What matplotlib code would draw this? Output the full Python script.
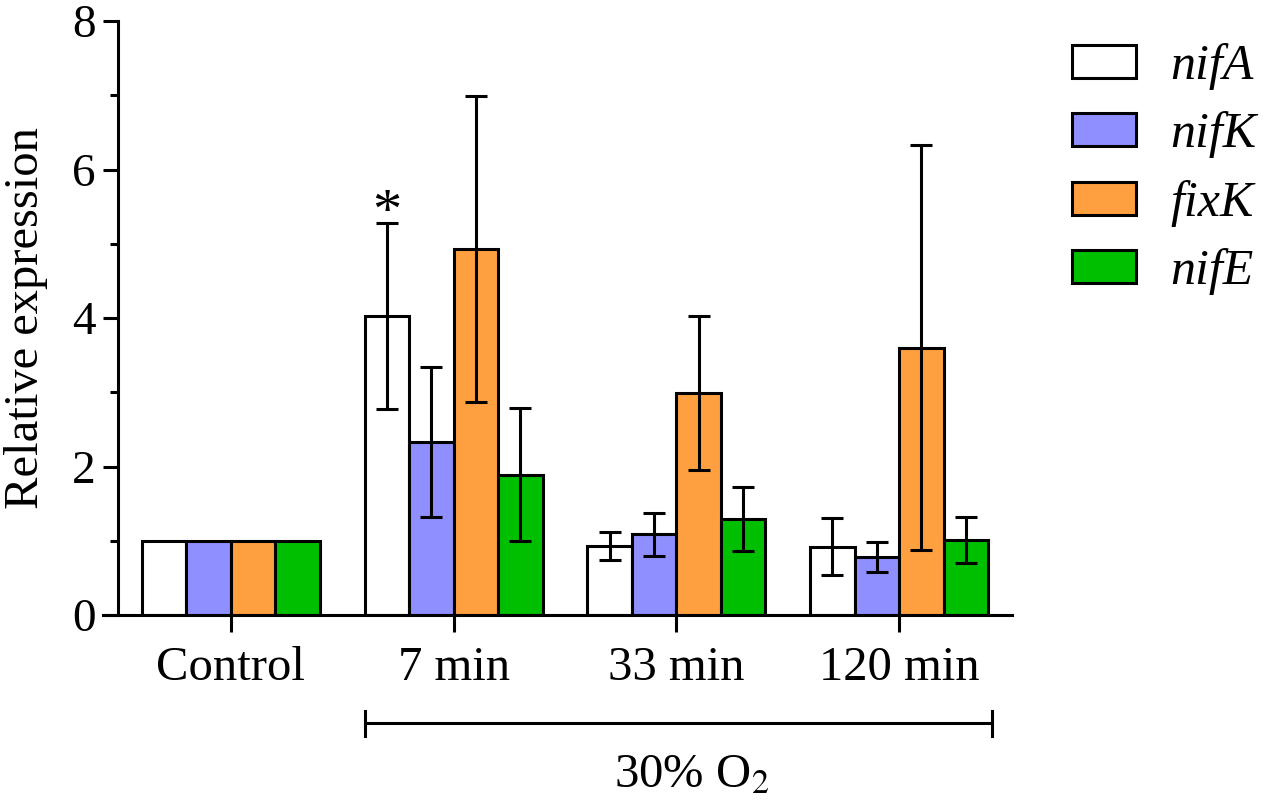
import numpy as np
import matplotlib
matplotlib.use('Agg')
import matplotlib.pyplot as plt
import matplotlib.transforms as mtransforms

plt.rcParams['font.family'] = ['Liberation Serif', 'DejaVu Serif']
plt.rcParams['mathtext.fontset'] = 'stix'

# datos
groups = ['Control', '7 min', '33 min', '120 min']
genes = ['nifA', 'nifK', 'fixK', 'nifE']
colors = ['#FFFFFF', '#8F8FFF', '#FFA040', '#00BF00']

nifA = [1.0, 4.03, 0.93, 0.92]
nifK = [1.0, 2.33, 1.09, 0.78]
fixK = [1.0, 4.93, 2.99, 3.60]
nifE = [1.0, 1.89, 1.29, 1.01]

nifA_err = [0, 1.25, 0.19, 0.38]
nifK_err = [0, 1.01, 0.29, 0.20]
fixK_err = [0, 2.06, 1.04, 2.73]
nifE_err = [0, 0.90, 0.43, 0.31]

values = [nifA, nifK, fixK, nifE]
errors = [nifA_err, nifK_err, fixK_err, nifE_err]

fig = plt.figure(figsize=(12.67, 8.01), dpi=100)
ax = fig.add_axes([103 / 1267, (801 - 615) / 801, 909 / 1267, 594 / 801])

x = np.arange(len(groups))
w = 0.2
lw = 2.2

for i, (vals, errs) in enumerate(zip(values, errors)):
    pos = x + (i - 1.5) * w
    ax.bar(pos, vals, width=w, color=colors[i], edgecolor='black', linewidth=lw,
           label=genes[i], zorder=2)
    # sin barra de error en el control
    ax.errorbar(pos[1:], vals[1:], yerr=errs[1:], fmt='none', ecolor='black',
                elinewidth=lw, capsize=8, capthick=lw, zorder=3)

# asterisco sobre nifA a los 7 min
ax.text(x[1] - 1.5 * w, 5.05, '*', ha='center', va='bottom', fontsize=42)

ax.set_xlim(-0.5745, 3.507)
ax.set_ylim(0, 8)
ax.spines['top'].set_visible(False)
ax.spines['right'].set_visible(False)
ax.spines['left'].set_position(('data', -0.507))
ax.spines['left'].set_linewidth(lw)
ax.spines['bottom'].set_linewidth(lw)

ax.set_yticks([0, 2, 4, 6, 8])
ax.set_yticks([1, 3, 5, 7], minor=True)
ax.tick_params(axis='y', which='major', length=11, width=lw, labelsize=34, pad=5)
ax.tick_params(axis='y', which='minor', length=6, width=lw)
ax.set_xticks(x)
ax.set_xticklabels(groups)
ax.tick_params(axis='x', which='major', length=12, width=lw, labelsize=35, pad=10)

fig.text(26 / 1267, 1 - 318 / 801, 'Relative expression', rotation=90,
         ha='center', va='center', fontsize=35)

# corchete de 30% O2
trans = mtransforms.blended_transform_factory(ax.transData, ax.transAxes)
yb = -0.182
ax.plot([0.6, 3.415], [yb, yb], color='black', lw=lw, transform=trans, clip_on=False)
for xe in (0.6, 3.415):
    ax.plot([xe, xe], [yb - 0.021, yb + 0.021], color='black', lw=lw,
            transform=trans, clip_on=False)
ax.text(2.07, -0.291, '30% O$_2$', ha='center', va='baseline', fontsize=35,
        transform=trans)

leg = ax.legend(loc='upper left', bbox_to_anchor=(1072 / 1267, 1 - 43 / 801),
                bbox_transform=fig.transFigure, frameon=False,
                handlelength=1.28, handleheight=0.64, handletextpad=0.68,
                labelspacing=0.43, borderpad=0, borderaxespad=0,
                prop={'style': 'italic', 'size': 36})

fig.savefig('out.png', dpi=100)
